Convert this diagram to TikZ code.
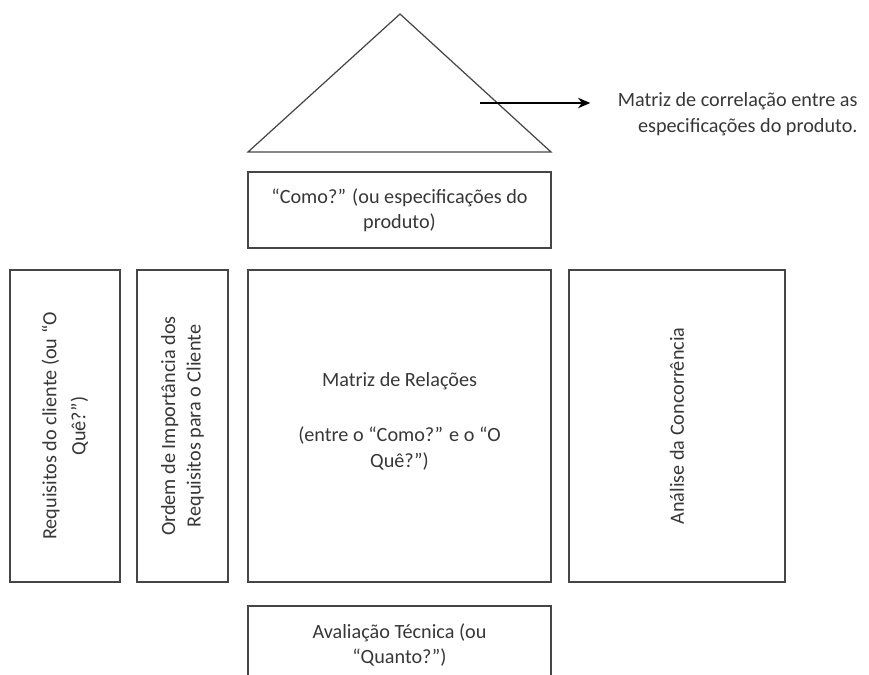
\documentclass[tikz,border=0pt]{standalone}
\usepackage{fontspec}
\setmainfont{Carlito}
\usepackage{tikz}
\usetikzlibrary{arrows.meta,positioning}

\definecolor{linegray}{RGB}{70,70,70}
\definecolor{textgray}{RGB}{55,55,55}

\begin{document}
\begin{tikzpicture}[x=0.02cm, y=-0.02cm, >={Stealth[length=7pt,width=6pt]}, line width=0.7pt,
    box/.style={draw=linegray, rectangle, align=center, inner sep=2pt, text=textgray},
    vbox/.style={box, rotate=90},
    lbl/.style={text=textgray, align=center},
    every node/.style={font=\fontsize{11.5}{14.5}\selectfont}]
    % Frame
    \useasboundingbox (0,0) rectangle (869,675);
    \clip (0,0) rectangle (869,675);

    % Roof
    \coordinate (roofL) at (248,152);
    \coordinate (roofT) at (400,14);
    \coordinate (roofR) at (551,152);
    \draw [linegray] (roofL) -- (roofT) -- (roofR) -- cycle;

    % Nodes
    \node [box, minimum width=6.06cm, minimum height=1.52cm] (como) at (399.5,210)
        {“Como?” (ou especificações do\\produto)};
    \node [vbox, minimum width=6.24cm, minimum height=2.2cm] (oque) at (65,426)
        {Requisitos do cliente (ou “O\\[2pt]Quê?”)};
    \node [vbox, minimum width=6.24cm, minimum height=1.82cm] (ordem) at (182.5,426)
        {Ordem de Importância dos\\Requisitos para o Cliente};
    \node [box, minimum width=6.06cm, minimum height=6.24cm] (matriz) at (399.5,426) {};
    \node [lbl] (matrizTxt) at (399.5,421)
        {Matriz de Relações\\[0.6cm](entre o “Como?” e o “O\\Quê?”)};
    \node [vbox, minimum width=6.24cm, minimum height=4.32cm] (concor) at (677,426)
        {Análise da Concorrência};
    \node [box, minimum width=6.06cm, minimum height=1.48cm] (quanto) at (399.5,643) {};
    \node [lbl] (quantoTxt) at (399.5,645) {Avaliação Técnica (ou\\“Quanto?”)};
    \node [lbl, align=right, anchor=east] (corr) at (864,114)
        {Matriz de correlação entre as\\especificações do produto.};

    % Paths
    \coordinate (arrStart) at (480,103);
    \draw [->, black] (arrStart) -- (arrStart -| corr.west) [shorten >=12pt];

\end{tikzpicture}
\end{document}
